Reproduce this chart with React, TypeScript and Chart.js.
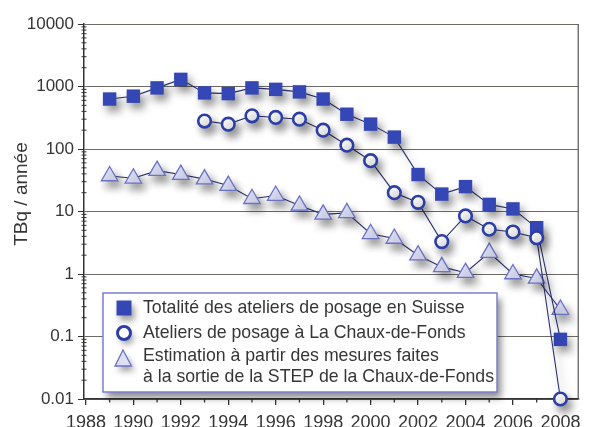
import { useEffect, useRef } from 'react';
import { Chart, registerables } from 'chart.js';

Chart.register(...registerables);

const years = [1989, 1990, 1991, 1992, 1993, 1994, 1995, 1996, 1997, 1998, 1999, 2000, 2001, 2002, 2003, 2004, 2005, 2006, 2007, 2008];
const totalSuisse = [630, 700, 950, 1300, 790, 770, 950, 900, 820, 630, 360, 250, 155, 39, 19, 25, 13, 11, 5.5, 0.09];
const chauxDeFonds = [null, null, null, null, 280, 250, 340, 320, 300, 200, 115, 65, 20, 14, 3.3, 8.5, 5.2, 4.7, 3.8, 0.01];
const stepEstimation = [37, 34, 45, 39, 33, 26, 16, 18, 12.5, 9, 9.5, 4.4, 3.7, 2.0, 1.3, 1.05, 2.2, 1.0, 0.85, 0.27];

const xTickYears = [1988, 1990, 1992, 1994, 1996, 1998, 2000, 2002, 2004, 2006, 2008];
const xMinorYears = [1989, 1991, 1993, 1995, 1997, 1999, 2001, 2003, 2005, 2007];
const yTickValues = [0.01, 0.1, 1, 10, 100, 1000, 10000];
const yTickLabels = ['0.01', '0.1', '1', '10', '100', '1000', '10000'];

const seriesNames = [
  'Totalité des ateliers de posage en Suisse',
  'Ateliers de posage à La Chaux-de-Fonds',
  'Estimation à partir des mesures faites',
];
const legendExtraLine = 'à la sortie de la STEP de la Chaux-de-Fonds';
const yTitle = 'TBq / année';

const FONT = '"Liberation Sans", Arial, sans-serif';
const SQUARE = '#3447b4';
const CIRCLE = '#2c3ea6';
const TRI_FILL = '#dcdff5';
const TRI_EDGE = '#6a72c4';
const LINE = '#2a3270';
const TEXT = '#363636';

const toPoints = (vals: (number | null)[]) =>
  years.map((y, i) => ({ x: y, y: vals[i] })).filter((p) => p.y !== null) as { x: number; y: number }[];

const shadowPlugin = {
  id: 'markerShadow',
  beforeDatasetsDraw(chart: any) {
    const ctx = chart.ctx;
    ctx.save();
    ctx.shadowColor = 'rgba(0,0,0,0.42)';
    ctx.shadowBlur = 8;
    ctx.shadowOffsetX = 4;
    ctx.shadowOffsetY = 6;
  },
  afterDatasetsDraw(chart: any) {
    chart.ctx.restore();
  },
};

const decorPlugin = {
  id: 'decor',
  beforeDatasetsDraw(chart: any) {
    const { ctx, chartArea } = chart;
    const xs = chart.scales.x;
    const ys = chart.scales.y;
    ctx.save();
    // right frame border
    ctx.strokeStyle = '#555';
    ctx.lineWidth = 1.2;
    ctx.beginPath();
    ctx.moveTo(chartArea.right, chartArea.top);
    ctx.lineTo(chartArea.right, chartArea.bottom);
    ctx.stroke();
    // minor x ticks
    ctx.strokeStyle = '#333';
    ctx.lineWidth = 1.3;
    xMinorYears.forEach((yr) => {
      const px = xs.getPixelForValue(yr);
      ctx.beginPath();
      ctx.moveTo(px, chartArea.bottom);
      ctx.lineTo(px, chartArea.bottom + 3.5);
      ctx.stroke();
    });
    // minor y ticks
    ctx.lineWidth = 1;
    for (let k = 0; k < yTickValues.length - 1; k++) {
      for (let m = 2; m <= 9; m++) {
        const py = ys.getPixelForValue(yTickValues[k] * m);
        ctx.beginPath();
        ctx.moveTo(chartArea.left - 2.5, py);
        ctx.lineTo(chartArea.left + 2.5, py);
        ctx.stroke();
      }
    }
    // y title
    ctx.fillStyle = TEXT;
    ctx.font = `19px ${FONT}`;
    ctx.textAlign = 'center';
    ctx.textBaseline = 'alphabetic';
    ctx.translate(27, 194);
    ctx.rotate(-Math.PI / 2);
    ctx.fillText(yTitle, 0, 0);
    ctx.restore();
  },
  afterDraw(chart: any) {
    const { ctx, chartArea } = chart;
    const left = chartArea.left + 19;
    const top = chartArea.top + 269;
    const w = 394;
    const h = 99;
    ctx.save();
    ctx.shadowColor = 'rgba(0,0,0,0.45)';
    ctx.shadowBlur = 7;
    ctx.shadowOffsetX = 4;
    ctx.shadowOffsetY = 6;
    ctx.fillStyle = '#ffffff';
    ctx.fillRect(left, top, w, h);
    ctx.shadowColor = 'rgba(0,0,0,0)';
    ctx.strokeStyle = '#7b7fd0';
    ctx.lineWidth = 1.5;
    ctx.strokeRect(left, top, w, h);

    const ix = left + 21;
    const rows = [top + 15, top + 40, top + 63, top + 84];
    ctx.shadowColor = 'rgba(0,0,0,0.38)';
    ctx.shadowBlur = 6;
    ctx.shadowOffsetX = 3;
    ctx.shadowOffsetY = 5;
    // square
    ctx.fillStyle = SQUARE;
    ctx.fillRect(ix - 7.5, rows[0] - 7.5, 15, 15);
    // circle
    ctx.beginPath();
    ctx.arc(ix, rows[1], 6.5, 0, Math.PI * 2);
    ctx.fillStyle = '#fff';
    ctx.fill();
    ctx.shadowColor = 'rgba(0,0,0,0)';
    ctx.lineWidth = 3;
    ctx.strokeStyle = CIRCLE;
    ctx.stroke();
    // triangle
    ctx.shadowColor = 'rgba(0,0,0,0.38)';
    ctx.beginPath();
    ctx.moveTo(ix - 1, rows[2] - 6);
    ctx.lineTo(ix + 7.5, rows[2] + 10);
    ctx.lineTo(ix - 9, rows[2] + 10);
    ctx.closePath();
    ctx.fillStyle = TRI_FILL;
    ctx.fill();
    ctx.shadowColor = 'rgba(0,0,0,0)';
    ctx.lineWidth = 1.3;
    ctx.strokeStyle = TRI_EDGE;
    ctx.stroke();

    ctx.fillStyle = TEXT;
    ctx.font = `17.7px ${FONT}`;
    ctx.textAlign = 'left';
    ctx.textBaseline = 'middle';
    const tx = left + 40;
    ctx.fillText(seriesNames[0], tx, rows[0]);
    ctx.fillText(seriesNames[1], tx, rows[1]);
    ctx.fillText(seriesNames[2], tx, rows[2]);
    ctx.fillText(legendExtraLine, tx, rows[3]);
    ctx.restore();
  },
};

export default function App() {
  const ref = useRef<HTMLCanvasElement>(null);
  useEffect(() => {
    document.body.style.margin = '0';
    const chart = new Chart(ref.current!, {
      type: 'line',
      data: {
        datasets: [
          {
            label: seriesNames[0],
            data: toPoints(totalSuisse),
            borderColor: LINE,
            borderWidth: 1.1,
            pointStyle: 'rect',
            pointRadius: 9.5,
            pointBackgroundColor: SQUARE,
            pointBorderColor: SQUARE,
            pointBorderWidth: 0,
            order: 2,
            clip: false,
          },
          {
            label: seriesNames[1],
            data: toPoints(chauxDeFonds),
            borderColor: LINE,
            borderWidth: 1.1,
            pointStyle: 'circle',
            pointRadius: 6.3,
            pointBackgroundColor: '#ffffff',
            pointBorderColor: CIRCLE,
            pointBorderWidth: 2.6,
            order: 1,
            clip: false,
          },
          {
            label: seriesNames[2],
            data: toPoints(stepEstimation),
            borderColor: LINE,
            borderWidth: 1.1,
            pointStyle: 'triangle',
            pointRadius: 9.5,
            pointBackgroundColor: TRI_FILL,
            pointBorderColor: TRI_EDGE,
            pointBorderWidth: 1.3,
            order: 3,
            clip: false,
          },
        ],
      },
      options: {
        animation: false,
        responsive: false,
        layout: { padding: { top: 24, right: 1, left: 0, bottom: 0 } },
        plugins: { legend: { display: false }, tooltip: { enabled: false } },
        scales: {
          x: {
            type: 'linear',
            min: 1987.92,
            max: 2008.75,
            afterBuildTicks: (s: any) => {
              s.ticks = xTickYears.map((v) => ({ value: v }));
            },
            afterFit: (s: any) => {
              s.height = 28;
            },
            ticks: {
              autoSkip: false,
              maxRotation: 0,
              padding: 7,
              color: TEXT,
              font: { family: FONT, size: 18 },
              callback: (v: any) => String(v),
            },
            grid: { drawOnChartArea: false, tickLength: 6, tickColor: '#333', lineWidth: 1.3 },
            border: { display: true, color: '#333', width: 1.5 },
          },
          y: {
            type: 'logarithmic',
            min: 0.01,
            max: 10000,
            afterBuildTicks: (s: any) => {
              s.ticks = yTickValues.map((v) => ({ value: v }));
            },
            afterFit: (s: any) => {
              s.width = 84;
            },
            ticks: {
              autoSkip: false,
              padding: 4,
              color: TEXT,
              font: { family: FONT, size: 17 },
              callback: (v: any) => {
                const i = yTickValues.findIndex((t) => Math.abs(Math.log10(t) - Math.log10(v)) < 1e-6);
                return i >= 0 ? yTickLabels[i] : '';
              },
            },
            grid: { color: '#6e6a66', lineWidth: 1, tickLength: 6, tickColor: '#333' },
            border: { display: true, color: '#333', width: 1.5 },
          },
        },
      },
      plugins: [decorPlugin, shadowPlugin],
    } as any);
    return () => chart.destroy();
  }, []);
  return <canvas ref={ref} width={589} height={427} style={{ display: 'block' }} />;
}
